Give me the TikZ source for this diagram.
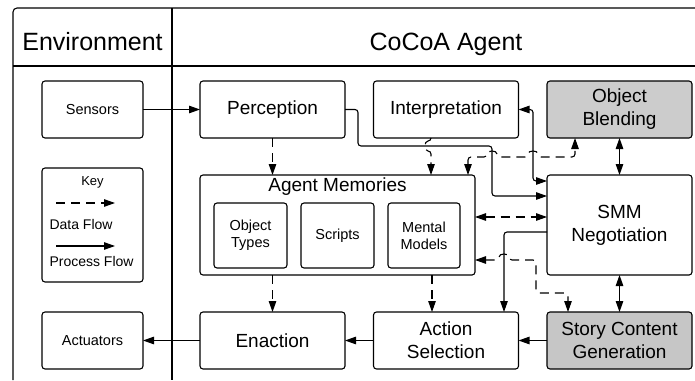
\documentclass[tikz,border=0pt]{standalone}
\usepackage{fontspec}
\setmainfont{Liberation Sans}
\usetikzlibrary{arrows.meta}
\tikzset{
  >={Triangle[length=11pt,width=7.5pt]},
  box/.style={draw,rounded corners=3pt,minimum width=145pt,minimum height=57pt,
    inner sep=0pt,outer sep=0pt,align=center,font=\fontsize{19}{23}\selectfont},
  smallbox/.style={box,minimum width=101pt,font=\fontsize{14.5}{17}\selectfont},
  membox/.style={box,minimum width=73pt,minimum height=65pt,font=\fontsize{14.5}{17}\selectfont},
  title/.style={anchor=base,font=\fontsize{25}{30}\selectfont},
  flow/.style={->,rounded corners=3pt},
  dataflow/.style={flow,dash pattern=on 9pt off 6pt},
}
\colorlet{blendgray}{gray!40}
\colorlet{storygray}{gray!45}

\begin{document}
\begin{tikzpicture}[x=1pt,y=-1pt,line width=1.1pt]
\useasboundingbox (0,0) rectangle (695,380);
% frame
\draw[rounded corners=4pt] (13,380) -- (13,8) -- (695,8);
\draw (13,66) -- (695,66);
\draw (172,8) -- (172,380);
\node[title] (env) at (92.5,50) {Environment};
\node[title] (agent) at (446,50) {CoCoA Agent};

% environment side
\node[smallbox] (sensors) at (92.5,109.5) {Sensors};
\node[smallbox,minimum height=114pt] (key) at (92.5,225) {};
\node[smallbox] (actuators) at (92.5,340.5) {Actuators};
\node[font=\fontsize{13}{15}\selectfont] (keytitle) at (92.5,182) {Key};
\coordinate (dfs) at (56,203);
\coordinate (dfe) at (115,203);
\coordinate (pfs) at (56,246);
\coordinate (pfe) at (115,246);
\node[anchor=west,inner sep=0pt,font=\fontsize{14}{17}\selectfont] (datalbl) at (49,224) {Data Flow};
\node[anchor=west,inner sep=0pt,font=\fontsize{14}{17}\selectfont] (proclbl) at (49,261) {Process Flow};
\draw[dataflow] (dfs) -- (dfe);
\draw[flow] (pfs) -- (pfe);

% agent side
\node[box] (perception) at (272.5,109.5) {Perception};
\node[box] (interp) at (446,109.5) {Interpretation};
\node[box,fill=blendgray] (blend) at (619.5,109.5) {Object\\Blending};
\node[box,minimum width=275pt,minimum height=100pt] (memories) at (337.5,225) {};
\node[font=\fontsize{19}{23}\selectfont] (memtitle) at (337.5,187) {Agent Memories};
\node[membox] (otypes) at (250.5,235.5) {Object\\Types};
\node[membox] (scripts) at (337.5,235.5) {Scripts};
\node[membox,minimum width=72pt] (mmodels) at (424,235.5) {Mental\\Models};
\node[box,minimum height=100pt] (smm) at (619.5,225) {SMM\\Negotiation};
\node[box] (enaction) at (272.5,340.5) {Enaction};
\node[box] (select) at (446,340.5) {Action\\Selection};
\node[box,fill=storygray] (story) at (619.5,340.5) {Story Content\\Generation};

% process flow
\draw[flow] (sensors) -- (perception);
\draw[flow] (perception.east) -- (358,109.5) |- (492,146) |- ([yshift=29pt]smm.west);
\draw[flow,<->] (interp.east) -- (533,109.5) |- ([yshift=44pt]smm.west);
\draw[flow,<->] (blend) -- (smm);
\draw[flow,<->] (smm) -- (story);
\draw[flow] ([yshift=-7pt]smm.west) -| ([xshift=58pt]select.north);
\draw[flow] (story) -- (select);
\draw[flow] (select) -- (enaction);
\draw[flow] (enaction) -- (actuators);

% data flow
\draw[dataflow] (perception.south) -- (perception.south |- memories.north);
\draw[dataflow] ([xshift=-15pt]interp.south) -- (431,141)
  .. controls (424,141) and (424,151) .. (431,151) -- ([xshift=-15pt]interp.south |- memories.north);
\draw[dataflow,<->] ([xshift=-7pt]memories.north east) |- (487,157)
  .. controls (487,150) and (497,150) .. (497,157) -- (528,157)
  .. controls (528,150) and (538,150) .. (538,157) -| ([xshift=-44.5pt]blend.south);
\draw[dataflow,<->] ([yshift=8pt]memories.east) -- ([yshift=8pt]smm.west);
\draw[dataflow,<->] ([yshift=-35pt]memories.east) -- (499,260)
  .. controls (499,253) and (509,253) .. (509,260) -| (536,293) -| ([xshift=-51.5pt]story.north);
\draw[dataflow] (enaction.north |- memories.south) -- (enaction.north);
\draw[dataflow] ([xshift=-14pt]select.north |- memories.south) -- ([xshift=-14pt]select.north);
\end{tikzpicture}
\end{document}
